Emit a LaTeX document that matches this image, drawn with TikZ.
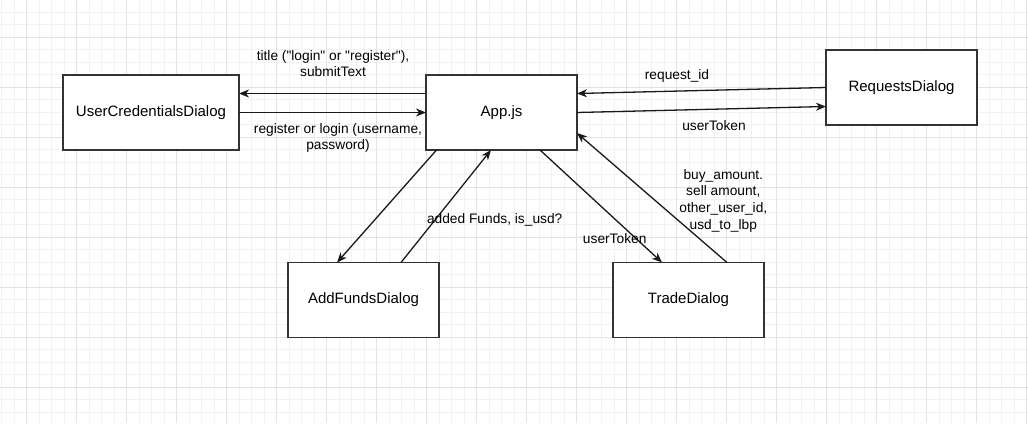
\documentclass[tikz,border=0pt]{standalone}
\usepackage{fontspec}
\setmainfont{Liberation Sans}
\usetikzlibrary{positioning, arrows.meta}

\begin{document}
\begin{tikzpicture}[
        x=1pt, y=-1pt,
        >={Stealth[length=10pt, width=8pt, inset=3pt]},
        every node/.style={font=\fontsize{15}{17}\selectfont},
        dialog/.style={rectangle, draw=black!80, line width=1.3pt, fill=white, minimum width=151pt, minimum height=75pt, inner sep=0pt, outer sep=0pt},
        lbl/.style={align=center, inner sep=0pt, font=\fontsize{13.75}{16.7}\selectfont},
        link/.style={->, line width=1.3pt, draw=black!90}
    ]
    
    % Background grid
    \useasboundingbox (0,0) rectangle (1028,423);
    \fill[white] (0,0) rectangle (1028,423);
    \foreach \x in {1.7,14.2,...,1028}
        \draw[black!5, line width=0.8pt] (\x,0) -- (\x,423);
    \foreach \y in {12.3,24.8,...,423}
        \draw[black!5, line width=0.8pt] (0,\y) -- (1028,\y);
    \foreach \x in {26.7,76.7,...,1028}
        \draw[black!11, line width=0.8pt] (\x,0) -- (\x,423);
    \foreach \y in {37.3,87.3,...,423}
        \draw[black!11, line width=0.8pt] (0,\y) -- (1028,\y);
    
    % Dialogs
    \node[dialog, minimum width=176pt] (UCD) at (151,112.5) {UserCredentialsDialog};
    \node[dialog] (App) [right=187pt of UCD] {App.js};
    \node[dialog] (Req) [right=249pt of App, yshift=25pt] {RequestsDialog};
    \node[dialog] (Funds) [below=112.5pt of App, xshift=-138pt] {AddFundsDialog};
    \node[dialog] (Trade) [right=174pt of Funds] {TradeDialog};
    
    % Connections
    \draw[link] ([yshift=19pt]App.west) -- ([yshift=19pt]UCD.east);
    \draw[link] (UCD.east) -- (App.west);
    \draw[link] (Req.west) -- ([yshift=19pt]App.east);
    \draw[link] (App.east) -- ([yshift=-19pt]Req.west);
    \draw[link] ([xshift=-65pt]App.south) -- ([xshift=-26.5pt]Funds.north);
    \draw[link] ([xshift=37.5pt]Funds.north) -- ([xshift=-10.5pt]App.south);
    \draw[link] ([xshift=38.5pt]App.south) -- ([xshift=-26.5pt]Trade.north);
    \draw[link] ([xshift=38.5pt]Trade.north) -- ([yshift=-20.5pt]App.east);
    
    % Labels
    \node[lbl] (titleLbl) at (333,63.5) {title (\textquotedbl login\textquotedbl{} or \textquotedbl register\textquotedbl),\\submitText};
    \node[lbl] (loginLbl) at (338,138) {register or login (username,\\password)};
    \node[lbl] (reqLbl) at (677,75.7) {request\_id};
    \node[lbl] (tokenLbl) at (714,125.7) {userToken};
    \node[lbl] (fundsLbl) at (494.7,220) {added Funds, is\_usd?};
    \node[lbl] (tradeTokenLbl) at (614.7,238.3) {userToken};
    \node[lbl] (tradeLbl) at (723.3,200.7) {buy\_amount.\\sell amount,\\other\_user\_id,\\usd\_to\_lbp};
    
\end{tikzpicture}
\end{document}
